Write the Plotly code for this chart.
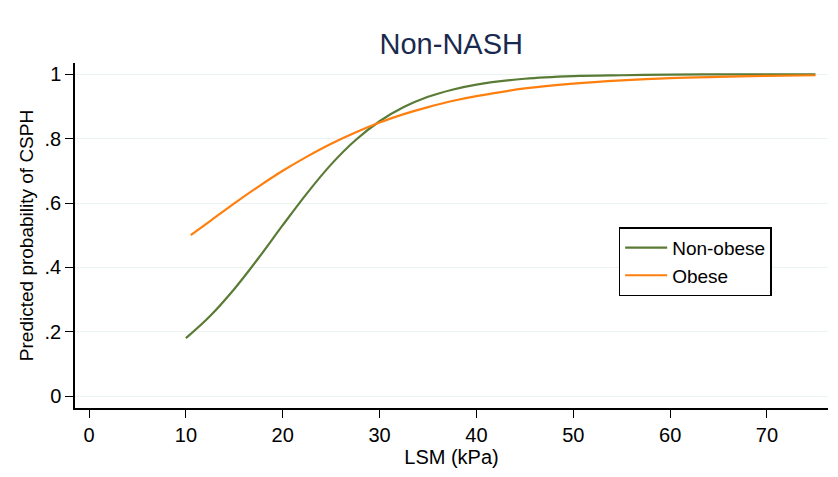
import plotly.graph_objects as go

# LSM (kPa) values and predicted probabilities
lsm_nonobese = [10, 12.5, 15, 17.5, 20, 22.5, 25, 27.5, 30, 32.5, 35, 37.5, 40, 45, 50, 55, 60, 65, 70, 75]
p_nonobese = [0.180, 0.249, 0.333, 0.429, 0.531, 0.630, 0.720, 0.795, 0.854, 0.898, 0.930, 0.952,
              0.968, 0.986, 0.994, 0.997, 0.999, 0.9995, 0.9998, 0.9999]

lsm_obese = [10.5, 12.5, 15, 17.5, 20, 22.5, 25, 27.5, 30, 32.5, 35, 37.5, 40, 45, 50, 55, 60, 65, 70, 75]
p_obese = [0.500, 0.544, 0.599, 0.651, 0.700, 0.744, 0.784, 0.819, 0.850, 0.876, 0.898, 0.917,
           0.932, 0.956, 0.971, 0.981, 0.988, 0.992, 0.995, 0.997]

x_ticks = [0, 10, 20, 30, 40, 50, 60, 70]
y_ticks = [0, 0.2, 0.4, 0.6, 0.8, 1]
y_tick_labels = ["0", ".2", ".4", ".6", ".8", "1"]

GREEN = "#5a7b35"
ORANGE = "#ff7f0e"
FONT = "Liberation Sans, Arial, sans-serif"

fig = go.Figure()
fig.add_trace(go.Scatter(x=lsm_nonobese, y=p_nonobese, mode="lines", name="Non-obese",
                         line=dict(color=GREEN, width=2.2, shape="spline")))
fig.add_trace(go.Scatter(x=lsm_obese, y=p_obese, mode="lines", name="Obese",
                         line=dict(color=ORANGE, width=2.2, shape="spline")))

fig.update_layout(
    width=838, height=477,
    margin=dict(l=75, r=10, t=63, b=69),
    paper_bgcolor="white", plot_bgcolor="white",
    font=dict(family=FONT, color="black"),
    title=dict(text="Non-NASH", x=0.5385, xanchor="center", y=0.908, yanchor="middle",
               font=dict(size=29, color="#1a2a4f", family=FONT)),
    showlegend=True,
    legend=dict(x=0.722, y=0.524, xanchor="left", yanchor="top",
                bordercolor="black", borderwidth=1.5, bgcolor="white",
                font=dict(size=19, family=FONT, color="black"),
                tracegroupgap=0, itemwidth=42),
    xaxis=dict(range=[-1.45, 76.3], tickvals=x_ticks, ticks="outside", ticklen=8,
               tickwidth=1.3, tickcolor="black", showline=True, linecolor="black",
               linewidth=1.5, showgrid=False, zeroline=False,
               tickfont=dict(size=20, family=FONT, color="black"),
               title=dict(text="LSM (kPa)", font=dict(size=20, family=FONT, color="black"),
                          standoff=5)),
    yaxis=dict(range=[-0.037, 1.035], tickvals=y_ticks, ticktext=y_tick_labels,
               ticks="outside", ticklen=8, tickwidth=1.3, tickcolor="black",
               showline=True, linecolor="black", linewidth=1.5,
               showgrid=True, gridcolor="#eaf2f3", gridwidth=1.2, zeroline=False,
               tickfont=dict(size=20, family=FONT, color="black"),
               title=dict(text="Predicted probability of CSPH",
                          font=dict(size=19, family=FONT, color="black"), standoff=6)),
)

fig.write_html("out.html")
